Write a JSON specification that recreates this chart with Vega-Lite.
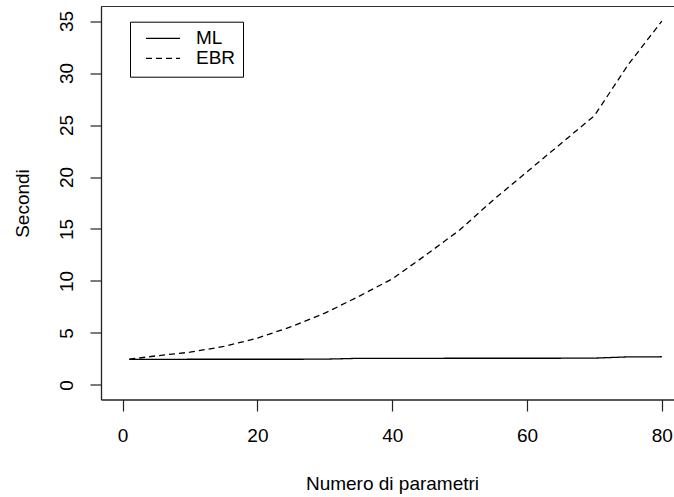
{
  "$schema": "https://vega.github.io/schema/vega-lite/v6.json",
  "autosize": {"type": "none"},
  "width": 573,
  "height": 393,
  "padding": {"left": 101, "top": 6.5, "right": 0, "bottom": 97.5},
  "background": "white",
  "config": {
    "view": {"stroke": null},
    "font": "Liberation Sans",
    "axis": {
      "grid": false,
      "domainColor": "#222",
      "domainWidth": 1.3,
      "tickColor": "#222",
      "tickWidth": 1.2,
      "labelColor": "black",
      "titleColor": "black",
      "labelFont": "Liberation Sans",
      "titleFont": "Liberation Sans",
      "labelFontSize": 19,
      "titleFontSize": 19,
      "titleFontWeight": "normal",
      "labelFlush": false,
      "labelOverlap": false
    }
  },
  "data": {
    "values": [
      {"n": 1, "metodo": "ML", "sec": 2.46},
      {"n": 5, "metodo": "ML", "sec": 2.46},
      {"n": 10, "metodo": "ML", "sec": 2.47},
      {"n": 15, "metodo": "ML", "sec": 2.47},
      {"n": 20, "metodo": "ML", "sec": 2.47},
      {"n": 25, "metodo": "ML", "sec": 2.47},
      {"n": 30, "metodo": "ML", "sec": 2.48},
      {"n": 35, "metodo": "ML", "sec": 2.56},
      {"n": 40, "metodo": "ML", "sec": 2.56},
      {"n": 45, "metodo": "ML", "sec": 2.56},
      {"n": 50, "metodo": "ML", "sec": 2.57},
      {"n": 55, "metodo": "ML", "sec": 2.57},
      {"n": 60, "metodo": "ML", "sec": 2.57},
      {"n": 65, "metodo": "ML", "sec": 2.57},
      {"n": 70, "metodo": "ML", "sec": 2.58},
      {"n": 75, "metodo": "ML", "sec": 2.70},
      {"n": 80, "metodo": "ML", "sec": 2.71},
      {"n": 1, "metodo": "EBR", "sec": 2.47},
      {"n": 5, "metodo": "EBR", "sec": 2.8},
      {"n": 10, "metodo": "EBR", "sec": 3.15},
      {"n": 15, "metodo": "EBR", "sec": 3.7},
      {"n": 20, "metodo": "EBR", "sec": 4.5},
      {"n": 25, "metodo": "EBR", "sec": 5.6},
      {"n": 30, "metodo": "EBR", "sec": 6.9},
      {"n": 35, "metodo": "EBR", "sec": 8.5},
      {"n": 40, "metodo": "EBR", "sec": 10.2},
      {"n": 45, "metodo": "EBR", "sec": 12.5},
      {"n": 50, "metodo": "EBR", "sec": 14.9},
      {"n": 55, "metodo": "EBR", "sec": 17.8},
      {"n": 60, "metodo": "EBR", "sec": 20.5},
      {"n": 65, "metodo": "EBR", "sec": 23.2},
      {"n": 70, "metodo": "EBR", "sec": 25.9},
      {"n": 75, "metodo": "EBR", "sec": 30.8},
      {"n": 80, "metodo": "EBR", "sec": 35.0}
    ]
  },
  "layer": [
    {
      "mark": {"type": "line", "color": "black", "strokeWidth": 1.3, "clip": true},
      "encoding": {
        "x": {
          "field": "n", "type": "quantitative",
          "scale": {"domain": [-3.2, 81.8], "nice": false, "zero": false},
          "axis": {
            "values": [0, 20, 40, 60, 80],
            "tickSize": 11.5,
            "labelBaseline": "alphabetic",
            "labelPadding": 30.5,
            "title": "Numero di parametri",
            "titleX": 291,
            "titleY": 90,
            "titleAlign": "center",
            "titleBaseline": "alphabetic"
          }
        },
        "y": {
          "field": "sec", "type": "quantitative",
          "scale": {"domain": [-1.4, 36.4], "nice": false, "zero": false},
          "axis": {
            "values": [0, 5, 10, 15, 20, 25, 30, 35],
            "tickSize": 11,
            "labelAngle": -90,
            "labelAlign": "center",
            "labelBaseline": "alphabetic",
            "labelPadding": 17.3,
            "title": "Secondi",
            "titleAngle": -90,
            "titleX": -72.7,
            "titleAlign": "center",
            "titleBaseline": "alphabetic"
          }
        },
        "detail": {"field": "metodo"},
        "strokeDash": {
          "field": "metodo", "type": "nominal",
          "scale": {"domain": ["ML", "EBR"], "range": [[1, 0], [6, 4]]},
          "legend": {
            "title": null,
            "orient": "none",
            "legendX": 29,
            "legendY": 15.2,
            "direction": "vertical",
            "strokeColor": "black",
            "fillColor": "white",
            "padding": 7.5,
            "symbolOffset": 7.5,
            "symbolType": "stroke",
            "symbolSize": 1156,
            "symbolStrokeColor": "black",
            "symbolStrokeWidth": 1.3,
            "clipHeight": 18.4,
            "rowPadding": 0,
            "labelOffset": 15,
            "labelFont": "Liberation Sans",
            "labelFontSize": 19,
            "labelColor": "black",
            "labelBaseline": "middle"
          }
        }
      }
    },
    {
      "mark": {"type": "rule", "color": "#333", "strokeWidth": 1},
      "encoding": {"y": {"datum": 36.4}}
    }
  ]
}
